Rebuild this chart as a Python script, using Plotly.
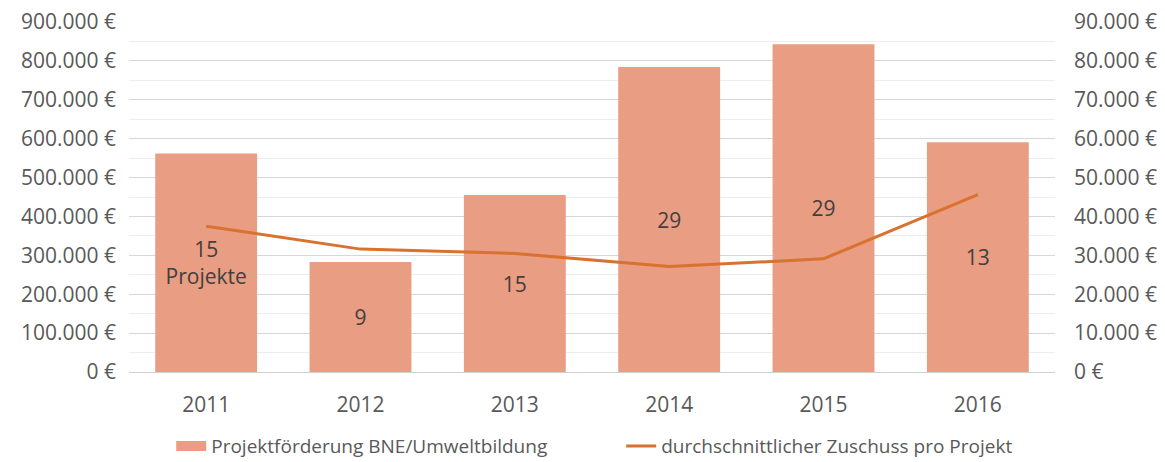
import plotly.graph_objects as go

years = ["2011", "2012", "2013", "2014", "2015", "2016"]
funding = [562000, 283000, 455000, 784000, 843000, 591000]
projects = [15, 9, 15, 29, 29, 13]
avg_grant = [37500, 31600, 30500, 27100, 29100, 45600]
bar_labels = ["15<br>Projekte", "9", "15", "29", "29", "13"]

text_col = "#595959"
bar_col = "#E99D82"
line_col = "#D9712F"
font_family = "Open Sans, Lato, DejaVu Sans, sans-serif"

fig = go.Figure()
fig.add_trace(go.Bar(
    x=years, y=funding, name="Projektförderung BNE/Umweltbildung",
    marker=dict(color=bar_col, line=dict(width=0)),
    text=bar_labels, textposition="inside", insidetextanchor="middle",
    textfont=dict(size=21, color="#404040", family=font_family),
    textangle=0, width=0.66, hoverinfo="skip", showlegend=False,
))
# legend-only entry giving the bar series a wide rectangular swatch
fig.add_trace(go.Scatter(
    x=[None], y=[None], name="Projektförderung BNE/Umweltbildung",
    mode="lines", line=dict(color=bar_col, width=14), hoverinfo="skip",
))
fig.add_trace(go.Scatter(
    x=years, y=avg_grant, name="durchschnittlicher Zuschuss pro Projekt",
    mode="lines", line=dict(color=line_col, width=3), yaxis="y2",
))

# page body has an 8px margin, so the figure is sized/offset to compensate
fig.update_layout(
    width=1157, height=454,
    margin=dict(l=121, r=110, t=14, b=90, autoexpand=False),
    paper_bgcolor="white", plot_bgcolor="white",
    separators=",.",
    font=dict(family=font_family, size=21, color=text_col),
    showlegend=True,
    legend=dict(orientation="h", x=0.53, xanchor="center", xref="container",
                y=-0.212, yanchor="middle", yref="paper",
                font=dict(size=19, color=text_col),
                traceorder="normal", entrywidth=405, tracegroupgap=0),
    xaxis=dict(showgrid=False, showline=True, linecolor="#D0D0D0", linewidth=1,
               ticks="", ticklabelstandoff=14, automargin=False,
               tickfont=dict(size=21, color=text_col)),
    yaxis=dict(range=[0, 900000], dtick=100000, tickformat=",.0f", ticksuffix=" €",
               showgrid=True, gridcolor="#D6D6D6", gridwidth=1, zeroline=False,
               minor=dict(dtick=50000, showgrid=True, gridcolor="#EDEDED", gridwidth=1),
               ticklabelstandoff=12, automargin=False, ticklabeloverflow="allow",
               tickfont=dict(size=21, color=text_col)),
    yaxis2=dict(range=[0, 90000], dtick=10000, tickformat=",.0f", ticksuffix=" €",
                overlaying="y", side="right", showgrid=False, zeroline=False,
                ticklabelstandoff=18, automargin=False, ticklabeloverflow="allow",
                tickfont=dict(size=21, color=text_col)),
)

fig.write_html("out.html")
